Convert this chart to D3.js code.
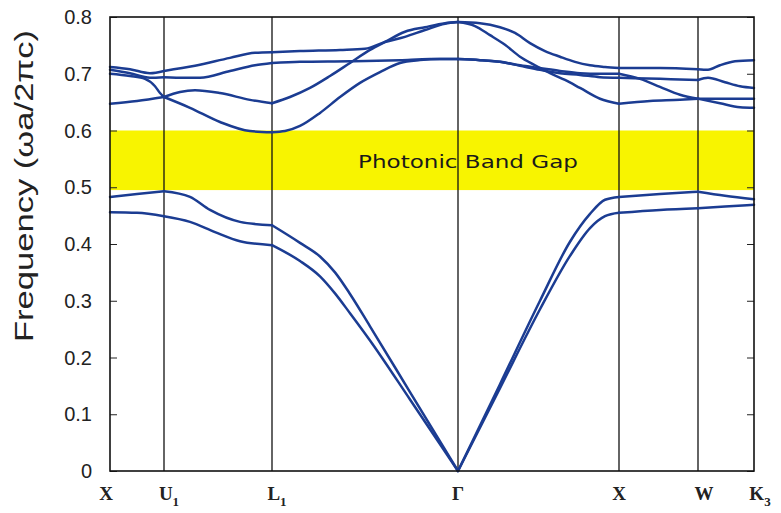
<!DOCTYPE html>
<html><head><meta charset="utf-8">
<script src="https://cdn.jsdelivr.net/npm/d3@7"></script>
<style>html,body{margin:0;padding:0;background:#fff;}svg{display:block;}</style>
</head><body>
<script>
// ---- data ----
const kPoints = [0, 0.54, 1.62, 3.48, 5.09, 5.88, 6.44];
const kLabels = [["X",""],["U","1"],["L","1"],["Γ",""],["X",""],["W",""],["K","3"]];
const yTicks = [0, 0.1, 0.2, 0.3, 0.4, 0.5, 0.6, 0.7, 0.8];
const gapRange = [0.495, 0.600];
const gapLabel = "Photonic Band Gap";
const yLabel = "Frequency (ωa/2πc)";

const band1 = [[0,0.456],[0.27,0.455],[0.54,0.449],[0.80,0.439],[1.05,0.421],[1.30,0.405],[1.62,0.398],
  [1.90,0.370],[2.10,0.343],[2.25,0.313],[2.40,0.278],[2.60,0.230],[3.00,0.126],[3.48,0],
  [3.90,0.146],[4.30,0.285],[4.60,0.379],[4.80,0.428],[4.95,0.449],[5.09,0.455],
  [5.50,0.460],[5.88,0.463],[6.15,0.466],[6.44,0.469]];
const band2 = [[0,0.483],[0.27,0.488],[0.54,0.493],[0.80,0.483],[1.00,0.460],[1.30,0.439],[1.62,0.433],
  [1.90,0.402],[2.10,0.378],[2.25,0.350],[2.40,0.312],[2.60,0.255],[3.00,0.139],[3.48,0],
  [3.90,0.153],[4.30,0.300],[4.60,0.404],[4.80,0.453],[4.95,0.478],[5.09,0.483],
  [5.50,0.488],[5.88,0.492],[6.15,0.485],[6.44,0.479]];
const band3 = [[0,0.700],[0.20,0.696],[0.35,0.691],[0.45,0.678],[0.50,0.666],[0.54,0.659],
  [0.80,0.640],[1.10,0.615],[1.40,0.599],[1.62,0.597],
  [1.75,0.599],[1.90,0.608],[2.10,0.631],[2.30,0.659],[2.50,0.684],[2.70,0.703],[2.90,0.719],[3.10,0.724],[3.30,0.726],[3.48,0.726],
  [3.70,0.724],[3.90,0.721],[4.10,0.714],[4.30,0.707],[4.50,0.701],[4.70,0.698],[4.90,0.694],[5.09,0.693],
  [5.50,0.691],[5.88,0.689],[5.98,0.693],[6.15,0.685],[6.30,0.678],[6.44,0.675]];
const band4 = [[0,0.647],[0.27,0.652],[0.54,0.659],
  [0.70,0.668],[0.85,0.671],[1.10,0.666],[1.40,0.654],[1.62,0.648],
  [1.80,0.659],[2.00,0.675],[2.20,0.696],[2.40,0.719],[2.60,0.742],[2.75,0.756],[2.95,0.774],[3.15,0.782],[3.35,0.789],[3.48,0.791],
  [3.65,0.784],[3.80,0.768],[3.95,0.751],[4.10,0.730],[4.25,0.715],[4.40,0.701],[4.55,0.689],[4.70,0.675],[4.90,0.656],[5.09,0.647],
  [5.40,0.652],[5.70,0.654],[5.88,0.656],[6.15,0.656],[6.44,0.656]];
const band5 = [[0,0.707],[0.20,0.701],[0.40,0.693],[0.54,0.694],
  [0.75,0.693],[0.90,0.693],[1.20,0.705],[1.45,0.715],[1.62,0.719],
  [1.90,0.721],[2.40,0.722],[2.90,0.724],[3.20,0.726],[3.48,0.726],
  [3.70,0.724],[3.90,0.721],[4.10,0.715],[4.30,0.710],[4.50,0.705],[4.70,0.701],[4.90,0.700],[5.09,0.700],
  [5.30,0.691],[5.50,0.677],[5.70,0.663],[5.88,0.656],[6.10,0.648],[6.30,0.641],[6.44,0.640]];
const band6 = [[0,0.712],[0.20,0.708],[0.40,0.701],[0.54,0.705],
  [0.85,0.714],[1.20,0.728],[1.45,0.737],[1.62,0.738],
  [1.90,0.740],[2.30,0.742],[2.55,0.744],[2.75,0.756],[2.95,0.765],[3.15,0.777],[3.35,0.788],[3.48,0.791],
  [3.70,0.789],[3.90,0.782],[4.05,0.772],[4.20,0.754],[4.35,0.740],[4.50,0.730],[4.65,0.721],[4.80,0.715],[4.95,0.712],[5.09,0.710],
  [5.50,0.710],[5.88,0.708],[5.98,0.707],[6.10,0.715],[6.25,0.722],[6.44,0.724]];
const bands = [band1, band2, band3, band4, band5, band6];

// ---- layout ----
const W = 781, H = 513;
const x0 = 110, x1 = 754, yTop = 17, yBot = 471;
const svg = d3.select("body").append("svg").attr("width", W).attr("height", H);
const x = d3.scaleLinear().domain([kPoints[0], kPoints[kPoints.length-1]]).range([x0, x1]);
const y = d3.scaleLinear().domain([0, 0.8]).range([yBot, yTop]);

// gap
svg.append("rect").attr("x", x0).attr("width", x1 - x0)
  .attr("y", y(gapRange[1])).attr("height", y(gapRange[0]) - y(gapRange[1]))
  .attr("fill", "#f8f400");
svg.append("text").attr("x", 358).attr("y", 168)
  .attr("font-family", "'DejaVu Sans', 'Liberation Sans', sans-serif").attr("font-size", 17)
  .attr("fill", "#1a1a1a").attr("textLength", 220).attr("lengthAdjust", "spacingAndGlyphs")
  .text(gapLabel);

// vertical symmetry lines
svg.append("g").selectAll("line").data(kPoints.slice(1, -1)).join("line")
  .attr("x1", d => x(d)).attr("x2", d => x(d)).attr("y1", yTop).attr("y2", yBot)
  .attr("stroke", "#111").attr("stroke-width", 1.3);

// y axes (inward ticks, both sides)
const yAxisL = d3.axisRight(y).tickValues(yTicks).tickSize(7).tickFormat("");
const gL = svg.append("g").attr("transform", `translate(${x0},0)`).call(yAxisL);
gL.select(".domain").remove();
gL.selectAll("line").attr("stroke", "#222");
const yAxisR = d3.axisLeft(y).tickValues(yTicks).tickSize(7).tickFormat("");
const gR = svg.append("g").attr("transform", `translate(${x1},0)`).call(yAxisR);
gR.select(".domain").remove();
gR.selectAll("line").attr("stroke", "#222");

// tick labels
svg.append("g").selectAll("text").data(yTicks).join("text")
  .attr("x", 92).attr("y", d => y(d)).attr("dy", "0.36em")
  .attr("text-anchor", "end")
  .attr("font-family", "'Liberation Sans', Arial, sans-serif").attr("font-size", 20)
  .attr("fill", "#222")
  .text(d => d === 0 ? "0" : d3.format(".1f")(d));

// y label
svg.append("text").attr("transform", "translate(33,186) rotate(-90)")
  .attr("text-anchor", "middle")
  .attr("font-family", "'Liberation Sans', Arial, sans-serif").attr("font-size", 25)
  .attr("fill", "#222").attr("textLength", 312).attr("lengthAdjust", "spacingAndGlyphs")
  .text(yLabel);

// x labels
const xl = svg.append("g").selectAll("text").data(kLabels.map((l, i) => ({l, k: kPoints[i]}))).join("text")
  .attr("x", d => x(d.k) + (d.l[1] ? 5 : 0) + (d.k === 0 ? -4 : 0) + (d.l[0] === "W" ? 6 : 0) + (d.l[0] === "K" ? 1 : 0))
  .attr("y", 500)
  .attr("text-anchor", "middle")
  .attr("font-family", "'Liberation Serif', 'Times New Roman', serif").attr("font-weight", "bold")
  .attr("font-size", 19).attr("fill", "#222");
xl.append("tspan").text(d => d.l[0]);
xl.filter(d => d.l[1]).append("tspan").attr("dy", 6).attr("font-size", 13).text(d => d.l[1]);

// bands
const line = d3.line().x(d => x(d[0])).y(d => y(d[1])).curve(d3.curveMonotoneX);
const segs = [];
bands.forEach((b, bi) => {
  for (let i = 0; i < kPoints.length - 1; i++) {
    const a = kPoints[i] - 1e-9, c = kPoints[i+1] + 1e-9;
    segs.push(b.filter(p => p[0] >= a && p[0] <= c));
  }
});
svg.append("g").selectAll("path").data(segs).join("path")
  .attr("d", line).attr("fill", "none")
  .attr("stroke", "#1b3c92").attr("stroke-width", 2.5)
  .attr("stroke-linecap", "round").attr("stroke-linejoin", "round");

// frame
svg.append("rect").attr("x", x0).attr("y", yTop).attr("width", x1 - x0).attr("height", yBot - yTop)
  .attr("fill", "none").attr("stroke", "#111").attr("stroke-width", 1.6);
</script>
</body></html>
